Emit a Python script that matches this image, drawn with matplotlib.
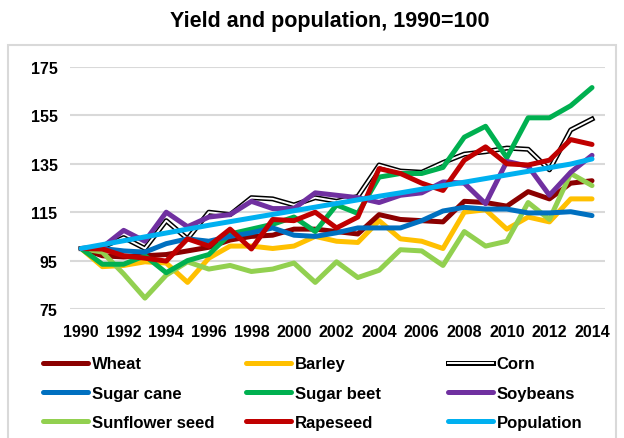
import matplotlib
matplotlib.use("Agg")
import matplotlib.pyplot as plt
import matplotlib.patheffects as pe
from matplotlib.patches import Rectangle

years = list(range(1990, 2015))
wheat = [100, 97, 96.5, 97, 97.5, 99, 100.5, 103.5, 105, 105.5, 108, 108, 107, 106, 114, 112, 111.5, 111, 119.5, 119, 117.5, 123.5, 120.5, 127, 128]
barley = [100, 92.5, 93, 94.5, 94, 86, 96, 101, 101, 100, 101, 105, 103, 102.5, 111.5, 104, 103, 100, 115, 116, 108, 113, 111, 120.5, 120.5]
corn = [100, 100.5, 104.5, 100, 111.5, 104, 115, 114, 121, 120.5, 118, 121, 119.5, 121.5, 134.5, 132, 131.5, 135.5, 139, 140, 141.5, 141, 132.5, 149, 153.5]
sugar_cane = [100, 100, 99, 98.5, 102, 104, 103, 105, 106.5, 108.5, 105.5, 105, 106.5, 108.5, 108.5, 108.5, 111.5, 115.5, 117, 116.3, 116.3, 114.7, 114.7, 115.2, 113.6]
sugar_beet = [100, 93.5, 93.5, 97, 90, 95, 97.5, 106, 108, 110, 113, 107, 118, 114.5, 129.5, 131, 131, 133.5, 146, 150.5, 137.5, 154, 154, 159, 166.5]
soybeans = [100, 100.5, 107.5, 103, 115, 109, 113, 114, 119.5, 116.5, 116.5, 123, 122, 121, 119, 122, 123, 127.5, 127, 118.5, 136, 134, 122, 131.5, 138.5]
sunflower = [100, 98.5, 89.5, 79.5, 89, 94.5, 91.5, 93, 90.5, 91.5, 94, 86, 94.5, 88, 91, 99.5, 99, 93, 107, 101, 103, 119, 112, 131, 126]
rapeseed = [100, 99.8, 97, 96, 94.8, 104, 101, 108, 99.8, 112, 111.5, 115, 108.5, 113, 133, 131, 127, 124, 136.5, 142, 135, 134.5, 136.5, 145, 143]
population = [100, 101.6, 103.2, 104.8, 106.4, 108, 109.6, 111.1, 112.6, 114.1, 115.6, 117.1, 118.6, 120.1, 121.6, 123, 124.5, 126, 127.4, 128.9, 130.4, 131.9, 133.4, 134.9, 137]

series = [
    ("Wheat", wheat, "#8B0000"),
    ("Barley", barley, "#FFC000"),
    ("Corn", corn, "white"),
    ("Sugar cane", sugar_cane, "#0070C0"),
    ("Sugar beet", sugar_beet, "#00B050"),
    ("Soybeans", soybeans, "#7030A0"),
    ("Sunflower seed", sunflower, "#92D050"),
    ("Rapeseed", rapeseed, "#C00000"),
    ("Population", population, "#00B0F0"),
]
zorders = {"Wheat": 3, "Barley": 2, "Corn": 4, "Sugar cane": 5, "Sugar beet": 4.5,
           "Soybeans": 5.5, "Sunflower seed": 3.5, "Rapeseed": 6, "Population": 7}

W, H = 624, 439
fig = plt.figure(figsize=(W / 100, H / 100), dpi=100)
fig.patch.set_facecolor("white")

fig.patches.append(Rectangle((8 / W, -0.02), (616 - 8) / W, (H - 46) / H + 0.02,
                             transform=fig.transFigure, fill=False,
                             edgecolor="#D9D9D9", linewidth=1.5))

ax = fig.add_axes([70 / W, (H - 310) / H, (605 - 70) / W, (310 - 68) / H])
ax.set_xlim(1989.48, 2014.61)
ax.set_ylim(75, 175)
for s in ax.spines.values():
    s.set_visible(False)
ax.set_yticks([75, 95, 115, 135, 155, 175])
ax.set_xticks(years[::2])
ax.grid(axis="y", color="#D9D9D9", linewidth=1.5)
ax.set_axisbelow(True)
ax.tick_params(axis="x", length=0, pad=11)
ax.tick_params(axis="y", length=0, pad=9)

font = ["Liberation Sans", "DejaVu Sans"]
for lab in ax.get_xticklabels() + ax.get_yticklabels():
    lab.set_fontfamily(font)
    lab.set_fontweight("bold")
    lab.set_fontsize(11.5)

handles = []
for name, vals, col in series:
    if name == "Corn":
        ln, = ax.plot(years, vals, color="white", linewidth=1.4, label=name,
                      zorder=zorders[name], clip_on=False,
                      path_effects=[pe.Stroke(linewidth=3.6, foreground="black"), pe.Normal()])
    else:
        ln, = ax.plot(years, vals, color=col, linewidth=3.6, label=name,
                      zorder=zorders[name], clip_on=False, solid_capstyle="round")
    handles.append(ln)

fig.text(330 / W, 1 - 22 / H, "Yield and population, 1990=100", ha="center", va="center",
         fontsize=15.5, fontweight="bold", family=font)

# legend laid out row-major in three fixed columns
col_x = [40, 243, 445]
for c in range(3):
    fig.legend(handles=handles[c::3], loc="upper left",
               bbox_to_anchor=(col_x[c] / W, 1 - 354 / H),
               ncol=1, frameon=False, handlelength=2.7, handletextpad=0.2,
               labelspacing=0.86, borderaxespad=0, borderpad=0.2,
               prop={"family": font, "weight": "bold", "size": 12})

fig.savefig("out.png", dpi=100)
